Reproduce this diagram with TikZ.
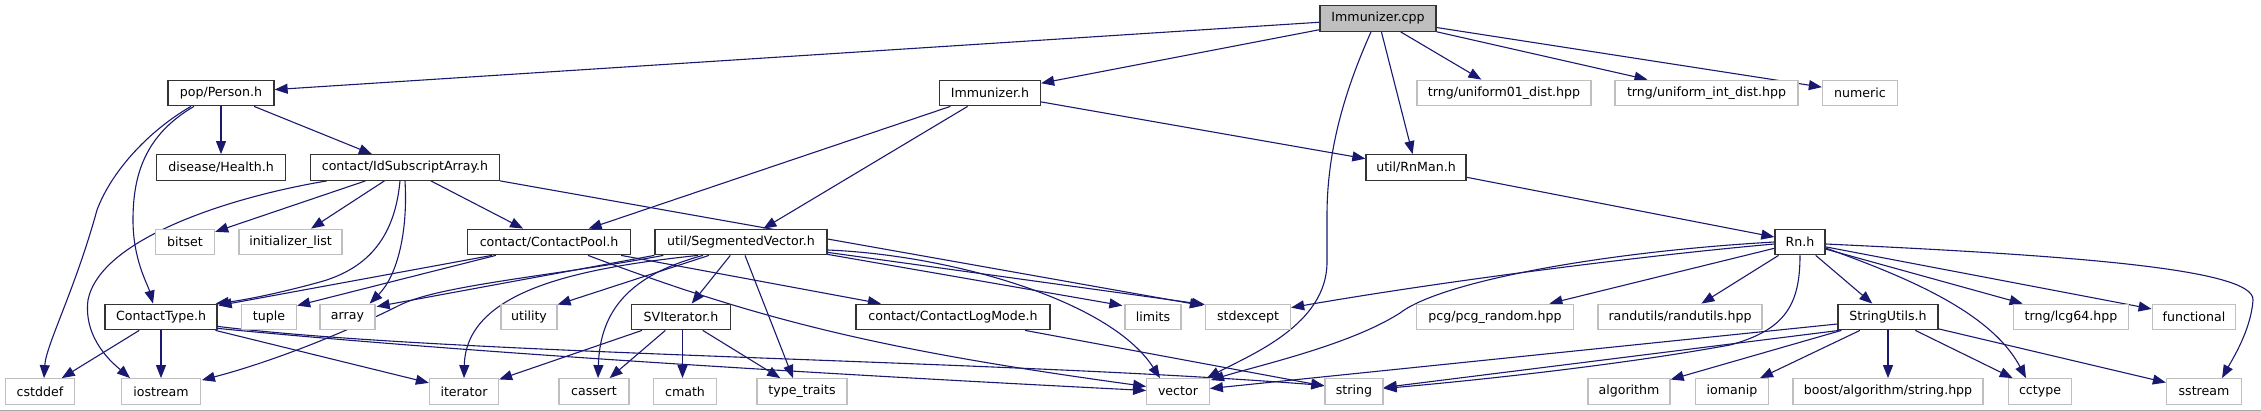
\documentclass[tikz,border=0pt]{standalone}
\usepackage{fontspec}
\setmainfont{DejaVu Sans}
\usetikzlibrary{arrows.meta,calc}
\definecolor{mblue}{HTML}{191970}
\definecolor{extgray}{HTML}{BFBFBF}
\pgfdeclarelayer{bg}
\pgfsetlayers{bg,main}
\begin{document}
\begin{tikzpicture}[x=1pt,y=-1pt,
  box/.style={minimum height=25.5pt, inner sep=0pt, line width=1.3pt, fill=white,
    font=\fontsize{12.6}{14}\selectfont},
  doc/.style={box, draw=black!80},
  ext/.style={box, draw=extgray},
  edge/.style={draw=mblue, line width=1.1pt, -{Triangle[length=13pt,width=10pt]}},
]
\useasboundingbox (0,0) rectangle (2261,411);
\draw[black!35, line width=1.2pt] (0,410.2) -- (2261,410.2);

% row 1
\node[doc, fill=extgray, minimum width=116pt] (cpp) at (1378,18.5) {Immunizer.cpp};
% row 2
\node[doc, minimum width=106pt] (person) at (221,93) {pop/Person.h};
\node[doc, minimum width=101pt] (imh) at (990,93) {Immunizer.h};
\node[ext, minimum width=174pt] (u01) at (1504,93) {trng/uniform01\_dist.hpp};
\node[ext, minimum width=183pt] (uint) at (1706.5,93) {trng/uniform\_int\_dist.hpp};
\node[ext, minimum width=75pt] (numeric) at (1860,93) {numeric};
% row 3
\node[doc, minimum width=129pt] (health) at (221,167.5) {disease/Health.h};
\node[doc, minimum width=189pt] (idsa) at (405,167.5) {contact/IdSubscriptArray.h};
\node[doc, minimum width=100pt] (rnman) at (1416,167.5) {util/RnMan.h};
% row 4
\node[ext, minimum width=59pt] (bitset) at (185,242) {bitset};
\node[ext, minimum width=103pt] (initl) at (290.5,242) {initializer\_list};
\node[doc, minimum width=163pt] (cpool) at (549,242) {contact/ContactPool.h};
\node[doc, minimum width=172pt] (segvec) at (741,242) {util/SegmentedVector.h};
\node[doc, minimum width=50pt] (rnh) at (1800,242) {Rn.h};
% row 5
\node[doc, minimum width=112pt] (ctype) at (161,317) {ContactType.h};
\node[ext, minimum width=55pt] (tuple) at (269,317) {tuple};
\node[ext, minimum width=55pt] (array) at (347.5,317) {array};
\node[ext, minimum width=56pt] (utility) at (529,317) {utility};
\node[doc, minimum width=98.5pt] (sviter) at (681,317) {SVIterator.h};
\node[doc, minimum width=194pt] (clog) at (953,317) {contact/ContactLogMode.h};
\node[ext, minimum width=56pt] (limits) at (1153,317) {limits};
\node[ext, minimum width=85pt] (stdexcept) at (1248,317) {stdexcept};
\node[ext, minimum width=157pt] (pcg) at (1495,317) {pcg/pcg\_random.hpp};
\node[ext, minimum width=164pt] (randutils) at (1680,317) {randutils/randutils.hpp};
\node[doc, minimum width=100pt] (strutils) at (1888,317) {StringUtils.h};
\node[ext, minimum width=115pt] (lcg64) at (2071,317) {trng/lcg64.hpp};
\node[ext, minimum width=83.5pt] (functional) at (2194,317) {functional};
% row 6
\node[ext, minimum width=69pt] (cstddef) at (40,391.5) {cstddef};
\node[ext, minimum width=78.5pt] (iostream) at (161,391.5) {iostream};
\node[ext, minimum width=69pt] (iterator) at (464,391.5) {iterator};
\node[ext, minimum width=70pt] (cassert) at (594,391.5) {cassert};
\node[ext, minimum width=63pt] (cmath) at (685,391.5) {cmath};
\node[ext, minimum width=90pt] (typetraits) at (802,391.5) {type\_traits};
\node[ext, minimum width=62.5pt] (vector) at (1178,391.5) {vector};
\node[ext, minimum width=58pt] (string) at (1354,391.5) {string};
\node[ext, minimum width=82pt] (algorithm) at (1629,391.5) {algorithm};
\node[ext, minimum width=73pt] (iomanip) at (1732,391.5) {iomanip};
\node[ext, minimum width=190pt] (boost) at (1888,391.5) {boost/algorithm/string.hpp};
\node[ext, minimum width=63.5pt] (cctype) at (2040,391.5) {cctype};
\node[ext, minimum width=75pt] (sstream) at (2204,391.5) {sstream};

\begin{pgfonlayer}{bg}
% Immunizer.cpp
\draw[edge] (cpp) -- (person);
\draw[edge] (cpp) -- (imh);
\draw[edge] (cpp) -- (rnman);
\draw[edge] (cpp) -- (u01);
\draw[edge] (cpp) -- (uint);
\draw[edge] (cpp) -- (numeric);
\draw[edge] ($(cpp.south)+(-7,0)$) .. controls (1345,90) and (1327,150) .. (1327,215) -- (1327,262) .. controls (1327,325) and (1250,355) .. ($(vector.north east)+(-3,0)$);
% pop/Person.h
\draw[edge] (person) -- (health);
\draw[edge] (person) -- (idsa);
\draw[edge] ($(person.south)+(-27,0)$) .. controls (145,135) and (133,175) .. (133,220) .. controls (133,260) and (148,285) .. ($(ctype.north)+(-8,0)$);
\draw[edge] ($(person.south)+(-30,0)$) .. controls (150,130) and (112,170) .. (97,210) .. controls (75,290) and (46,345) .. ($(cstddef.north)+(4,0)$);
% IdSubscriptArray.h
\draw[edge] ($(idsa.south west)+(17,0)$) .. controls (225,198) and (100,240) .. (88,300) .. controls (83,340) and (115,365) .. ($(iostream.north)+(-31,0)$);
\draw[edge] (idsa) -- (bitset);
\draw[edge] (idsa) -- (initl);
\draw[edge] ($(idsa.south)+(-5,0)$) .. controls (395,235) and (370,268) .. (320,282) .. controls (280,293) and (245,300) .. ($(ctype.north east)+(-2,0)$);
\draw[edge] (idsa.south) .. controls (408,230) and (398,275) .. ($(array.north east)+(-6,0)$);
\draw[edge] (idsa) -- (cpool);
\draw[edge] (idsa.south east) -- ($(stdexcept.north west)+(-2,2)$);
% Immunizer.h
\draw[edge] (imh) -- (cpool);
\draw[edge] (imh) -- (segvec);
\draw[edge] (imh) -- (rnman);
\draw[edge] (rnman) -- (rnh);
% ContactPool.h
\draw[edge] ($(cpool.south west)+(25,0)$) -- ($(ctype.north east)+(1,2)$);
\draw[edge] ($(cpool.south west)+(29,0)$) -- ($(tuple.north east)+(0,2)$);
\draw[edge] (cpool) -- (clog);
\draw[edge] ($(cpool.south)+(39,0)$) .. controls (760,320) and (880,350) .. ($(vector.west)+(0,-5)$);
% SegmentedVector.h
\draw[edge] (segvec.south west) -- ($(array.north east)+(1,3)$);
\draw[edge] ($(segvec.south west)+(9,0)$) .. controls (560,275) and (440,285) .. (400,305) .. controls (330,340) and (260,365) .. ($(iostream.north east)+(1,2)$);
\draw[edge] ($(segvec.south)+(-43,0)$) .. controls (580,268) and (466,290) .. (iterator.north);
\draw[edge] ($(segvec.south)+(-32,0)$) -- ($(utility.north east)+(0,1)$);
\draw[edge] (segvec) -- (sviter);
\draw[edge] ($(segvec.south)+(-38,0)$) .. controls (630,275) and (600,310) .. ($(cassert.north)+(4,0)$);
\draw[edge] ($(segvec.south)+(4,0)$) -- ($(typetraits.north)+(-9,0)$);
\draw[edge] ($(segvec.south east)+(0,-1)$) -- ($(limits.north west)+(-2,2)$);
\draw[edge] ($(segvec.south east)+(0,-3)$) -- ($(stdexcept.north west)+(0,1)$);
\draw[edge] ($(segvec.east)+(0,8)$) .. controls (950,255) and (1110,300) .. ($(vector.north)+(-18,0)$);
% ContactType.h
\draw[edge] (ctype) -- (cstddef);
\draw[edge] (ctype) -- (iostream);
\draw[edge] (ctype) -- (iterator);
\draw[edge] ($(ctype.south east)+(0,-4)$) .. controls (450,355) and (1000,360) .. ($(string.west)+(0,-6)$);
\draw[edge] ($(ctype.south east)+(0,-2)$) .. controls (500,356) and (900,378) .. ($(vector.west)+(0,-1)$);
% SVIterator.h
\draw[edge] (sviter) -- (iterator);
\draw[edge] (sviter) -- (cassert);
\draw[edge] ($(sviter.south)+(1.5,0)$) -- ($(cmath.north)+(-2.5,0)$);
\draw[edge] (sviter) -- (typetraits);
% ContactLogMode.h
\draw[edge] (clog) -- (string);
% Rn.h
\draw[edge] ($(rnh.west)+(0,2)$) .. controls (1650,255) and (1450,280) .. ($(stdexcept.north east)+(0,4)$);
\draw[edge] (rnh.west) .. controls (1600,252) and (1440,282) .. (1400,313) .. controls (1350,345) and (1260,365) .. ($(vector.north east)+(1,2)$);
\draw[edge] (rnh) -- (pcg);
\draw[edge] (rnh) -- (randutils);
\draw[edge] (rnh) -- (strutils);
\draw[edge] ($(rnh.east)+(0,6)$) .. controls (1900,275) and (1990,310) .. ($(cctype.north)+(-14,0)$);
\draw[edge] (rnh) -- (lcg64);
\draw[edge] (rnh) -- (functional);
\draw[edge] ($(rnh.east)+(0,2)$) .. controls (2060,255) and (2255,268) .. (2253,300) .. controls (2251,330) and (2232,360) .. ($(sstream.north)+(18,0)$);
\draw[edge] (rnh.south) .. controls (1800,305) and (1785,330) .. (1730,345) .. controls (1620,365) and (1480,380) .. ($(string.east)+(0,-3)$);
% StringUtils.h
\draw[edge] ($(strutils.west)+(0,7)$) -- ($(vector.east)+(0,-3)$);
\draw[edge] ($(strutils.south west)+(2,0)$) -- ($(string.east)+(0,-4)$);
\draw[edge] (strutils) -- (algorithm);
\draw[edge] (strutils) -- (iomanip);
\draw[edge] (strutils) -- (boost);
\draw[edge] (strutils) -- (cctype);
\draw[edge] (strutils) -- (sstream);
\end{pgfonlayer}
\end{tikzpicture}
\end{document}
